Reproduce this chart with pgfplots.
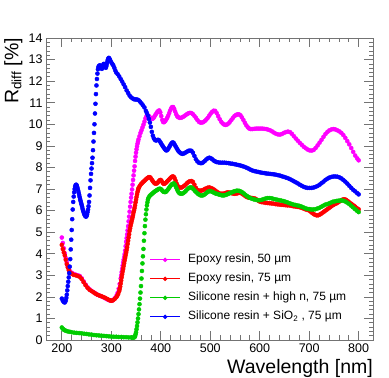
\documentclass[border=0pt]{standalone}
\usepackage{fontspec}
\setmainfont{Liberation Sans}
\usepackage{pgfplots}
\pgfplotsset{compat=1.18}
\definecolor{cmag}{RGB}{255,0,255}
\definecolor{cred}{RGB}{255,0,0}
\definecolor{cgreen}{RGB}{0,204,0}
\definecolor{cblue}{RGB}{0,0,255}
\begin{document}
\begin{tikzpicture}[x=1pt,y=1pt]
\path[use as bounding box] (0,0) rectangle (389,378);
\begin{axis}[
  at={(46pt,38pt)}, anchor=south west, scale only axis,
  width=327pt, height=302pt,
  xmin=168, xmax=829, ymin=0, ymax=14,
  xtick={200,300,...,800}, ytick={0,1,...,14},
  minor x tick num=4, minor y tick num=4,
  tick align=inside, major tick length=9pt, minor tick length=4.5pt,
  axis line style={black!55, line width=0.7pt},
  every tick/.style={black!55, line width=0.7pt},
  tick label style={font=\fontsize{12.5}{14}\selectfont},
  /pgf/number format/assume math mode=true,
  /pgf/number format/1000 sep={},
  xlabel={Wavelength [nm]},
  xlabel style={at={(rel axis cs:1,-0.1093)}, anchor=base east, inner sep=0pt, font=\fontsize{19.5}{22}\selectfont},
  ylabel={R\raisebox{-3pt}{\fontsize{13.5}{14}\selectfont diff} [\%]},
  ylabel style={at={(rel axis cs:-0.0841,1)}, anchor=base east, inner sep=0pt, rotate=0, font=\fontsize{19.5}{22}\selectfont},
  legend style={at={(rel axis cs:0.316,0.285)}, anchor=north west, draw=none, fill=none, inner sep=0pt,
    font=\fontsize{12}{14}\selectfont, row sep=7.6pt,
    nodes={inner sep=0pt, text height=8.8pt, text depth=2.6pt},
    /tikz/every odd column/.append style={column sep=7.5pt}},
  legend cell align=left,
  legend image code/.code={\draw[#1,sharp plot,line width=1.2pt,mark repeat=2,mark phase=2,mark size=1.5pt] plot coordinates {(0pt,0pt) (15pt,0pt) (30pt,0pt)};},
  every axis plot/.append style={only marks, mark=*, mark size=2.05pt},
]
\addplot[cmag] coordinates {
(200,4.75) (202,4.5) (204,4.25) (206,4.02) (208,3.8) (210,3.6) (212,3.43) (214,3.3) (216,3.2) (218,3.14) (221,3.1) (224,3.06) (228,3.03) (232,3.0) (236,2.97) (240,2.87) (244,2.72) (248,2.57) (252,2.44) (256,2.35) (260,2.28) (264,2.22) (268,2.16) (272,2.1) (276,2.06) (280,2.02) (284,1.98) (288,1.93) (292,1.88) (296,1.84) (299,1.82) (302,1.83) (305,1.88) (308,1.96) (311,2.08) (313,2.2) (315,2.38) (317,2.6) (319,2.85) (320,3.0) (321,3.15) (322,3.3) (323,3.45) (324,3.6) (325,3.72) (326,3.84) (327,3.98) (328,4.15) (329,4.35) (330,4.55) (331,4.72) (332,4.9) (333,5.08) (334,5.28) (335,5.5) (336,5.72) (337,5.95) (338,6.18) (339,6.4) (340,6.6) (341,6.78) (342,6.98) (343,7.2) (344,7.42) (345,7.63) (346,7.85) (347,8.05) (348,8.3) (349,8.5) (350,8.68) (351,8.84) (352,8.98) (353,9.1) (354,9.2) (355,9.3) (357,9.45) (359,9.6) (361,9.72) (363,9.85) (365,9.98) (367,10.12) (369,10.27) (371,10.37) (373,10.4) (375,10.4) (377,10.36) (379,10.3) (381,10.26) (383,10.25) (385,10.28) (387,10.35) (389,10.43) (391,10.5) (393,10.57) (395,10.62) (397,10.64) (399,10.55) (401,10.38) (403,10.2) (405,10.1) (407,10.1) (409,10.15) (411,10.22) (413,10.3) (415,10.4) (417,10.52) (419,10.64) (421,10.74) (423,10.8) (425,10.8) (427,10.72) (429,10.6) (431,10.47) (433,10.38) (435,10.33) (438,10.3) (441,10.3) (444,10.33) (447,10.37) (450,10.42) (453,10.47) (456,10.51) (459,10.53) (462,10.52) (465,10.47) (468,10.39) (471,10.3) (474,10.2) (477,10.12) (480,10.08) (483,10.08) (486,10.1) (489,10.15) (492,10.22) (495,10.3) (498,10.4) (501,10.5) (504,10.58) (507,10.63) (510,10.62) (513,10.52) (516,10.38) (519,10.24) (522,10.12) (525,10.04) (528,9.99) (531,9.97) (534,9.99) (537,10.04) (540,10.12) (543,10.21) (546,10.3) (549,10.38) (552,10.43) (555,10.46) (558,10.46) (561,10.42) (564,10.32) (567,10.2) (570,10.07) (573,9.95) (576,9.86) (579,9.8) (582,9.78) (585,9.78) (589,9.79) (593,9.8) (597,9.8) (601,9.8) (605,9.8) (609,9.79) (613,9.78) (617,9.75) (621,9.72) (625,9.67) (629,9.61) (633,9.56) (637,9.53) (641,9.52) (645,9.55) (649,9.6) (653,9.64) (657,9.66) (661,9.64) (665,9.56) (669,9.45) (673,9.34) (677,9.24) (681,9.14) (685,9.05) (689,8.96) (693,8.89) (697,8.83) (701,8.79) (705,8.78) (709,8.81) (713,8.9) (717,9.02) (721,9.15) (725,9.28) (729,9.42) (733,9.55) (737,9.65) (741,9.72) (745,9.76) (749,9.78) (753,9.76) (757,9.72) (761,9.67) (765,9.6) (769,9.5) (773,9.37) (777,9.22) (781,9.07) (785,8.9) (789,8.72) (793,8.55) (797,8.42) (800,8.33)
};
\addlegendentry{Epoxy resin, 50 µm}
\addplot[cred] coordinates {
(200,4.41) (202,4.22) (204,4.06) (206,3.92) (208,3.72) (210,3.52) (212,3.37) (214,3.24) (216,3.14) (218,3.1) (221,3.06) (224,3.02) (228,3.0) (232,2.97) (236,2.93) (240,2.83) (244,2.68) (248,2.54) (252,2.42) (256,2.33) (260,2.27) (264,2.21) (268,2.15) (272,2.1) (276,2.06) (280,2.03) (284,1.99) (288,1.95) (292,1.9) (295,1.86) (298,1.83) (301,1.82) (304,1.85) (307,1.91) (310,1.98) (312,2.05) (314,2.14) (316,2.27) (317,2.37) (318,2.48) (319,2.62) (320,2.76) (321,2.91) (322,3.05) (323,3.18) (324,3.3) (325,3.43) (326,3.56) (327,3.69) (328,3.81) (329,3.93) (330,4.05) (331,4.17) (332,4.3) (333,4.45) (334,4.6) (335,4.75) (336,4.9) (337,5.06) (338,5.18) (339,5.3) (340,5.4) (341,5.5) (342,5.6) (343,5.69) (344,5.8) (345,5.92) (346,6.02) (347,6.12) (348,6.25) (349,6.38) (350,6.5) (351,6.63) (352,6.75) (353,6.86) (354,6.95) (355,7.03) (356,7.08) (358,7.16) (360,7.22) (362,7.27) (364,7.32) (366,7.36) (368,7.4) (370,7.45) (372,7.49) (374,7.52) (376,7.55) (378,7.55) (380,7.5) (382,7.43) (384,7.36) (386,7.3) (388,7.26) (390,7.25) (392,7.26) (394,7.3) (396,7.36) (398,7.41) (400,7.42) (402,7.36) (404,7.28) (406,7.24) (408,7.25) (410,7.28) (412,7.33) (414,7.38) (416,7.42) (418,7.47) (420,7.52) (422,7.56) (424,7.58) (426,7.57) (428,7.5) (430,7.38) (432,7.25) (434,7.15) (436,7.09) (438,7.07) (441,7.06) (444,7.09) (447,7.14) (450,7.2) (453,7.27) (456,7.33) (459,7.36) (462,7.37) (465,7.33) (468,7.2) (471,7.05) (474,6.96) (477,6.93) (480,6.92) (483,6.93) (486,6.96) (489,7.0) (492,7.03) (495,7.06) (498,7.07) (501,7.05) (504,7.02) (507,6.98) (510,6.93) (513,6.88) (516,6.83) (519,6.79) (522,6.78) (525,6.78) (528,6.79) (531,6.81) (534,6.84) (537,6.84) (540,6.83) (543,6.81) (546,6.79) (549,6.78) (552,6.79) (555,6.8) (558,6.82) (561,6.82) (564,6.79) (567,6.74) (570,6.69) (573,6.64) (576,6.61) (579,6.6) (582,6.59) (585,6.58) (588,6.57) (591,6.55) (594,6.51) (597,6.46) (600,6.42) (604,6.39) (608,6.38) (612,6.36) (616,6.35) (620,6.34) (624,6.33) (628,6.32) (632,6.3) (636,6.29) (640,6.28) (644,6.27) (648,6.26) (652,6.25) (656,6.24) (660,6.24) (664,6.22) (668,6.2) (672,6.19) (676,6.17) (680,6.16) (684,6.13) (688,6.1) (692,6.06) (696,6.03) (700,6.0) (703,5.95) (706,5.89) (709,5.84) (712,5.8) (715,5.78) (718,5.78) (721,5.81) (724,5.85) (727,5.9) (730,5.95) (733,6.0) (736,6.05) (739,6.1) (742,6.15) (745,6.2) (748,6.25) (751,6.29) (754,6.32) (757,6.36) (760,6.4) (763,6.45) (766,6.49) (769,6.52) (772,6.52) (775,6.49) (778,6.44) (781,6.38) (784,6.33) (787,6.28) (790,6.23) (793,6.18) (796,6.12) (800,6.06)
};
\addlegendentry{Epoxy resin, 75 µm}
\addplot[cgreen] coordinates {
(200,0.58) (202,0.52) (204,0.48) (206,0.45) (209,0.42) (212,0.4) (216,0.38) (220,0.36) (225,0.34) (230,0.33) (235,0.32) (240,0.31) (245,0.29) (250,0.28) (255,0.26) (260,0.25) (265,0.23) (270,0.22) (275,0.21) (280,0.2) (285,0.19) (290,0.18) (295,0.17) (300,0.16) (305,0.15) (310,0.15) (315,0.14) (320,0.14) (325,0.13) (330,0.13) (335,0.12) (340,0.12) (343,0.11) (345,0.11) (347,0.13) (348,0.18) (349,0.26) (350,0.36) (351,0.5) (352,0.65) (353,0.82) (354,1.0) (355,1.2) (356,1.42) (357,1.66) (358,1.92) (359,2.2) (360,2.5) (361,2.85) (362,3.2) (363,3.55) (364,3.88) (365,4.22) (366,4.6) (367,4.95) (368,5.28) (369,5.58) (370,5.83) (371,6.05) (372,6.24) (373,6.38) (374,6.5) (375,6.58) (377,6.66) (379,6.71) (381,6.75) (383,6.79) (385,6.83) (387,6.87) (389,6.9) (391,6.93) (393,6.96) (395,6.99) (397,7.01) (399,7.01) (401,6.98) (403,6.93) (405,6.88) (407,6.86) (409,6.86) (411,6.88) (413,6.93) (415,6.99) (417,7.06) (419,7.12) (421,7.18) (423,7.23) (425,7.25) (427,7.25) (429,7.18) (431,7.08) (433,6.97) (435,6.88) (437,6.82) (439,6.79) (442,6.78) (445,6.8) (448,6.85) (451,6.92) (454,6.99) (457,7.05) (460,7.08) (463,7.06) (466,6.99) (469,6.91) (472,6.84) (475,6.78) (478,6.73) (481,6.7) (484,6.7) (487,6.72) (490,6.77) (493,6.83) (496,6.88) (499,6.9) (502,6.89) (505,6.86) (508,6.82) (511,6.79) (514,6.77) (517,6.75) (520,6.73) (523,6.71) (526,6.7) (529,6.71) (532,6.73) (535,6.76) (538,6.79) (541,6.82) (544,6.85) (547,6.88) (550,6.9) (553,6.92) (556,6.92) (559,6.91) (562,6.88) (565,6.84) (568,6.79) (571,6.73) (574,6.68) (577,6.63) (580,6.59) (584,6.55) (588,6.52) (592,6.5) (596,6.48) (600,6.48) (604,6.5) (608,6.53) (612,6.56) (616,6.58) (620,6.58) (624,6.57) (628,6.54) (632,6.52) (636,6.5) (640,6.48) (644,6.46) (648,6.44) (652,6.41) (656,6.38) (660,6.34) (664,6.31) (668,6.28) (672,6.26) (676,6.24) (680,6.22) (684,6.19) (688,6.15) (692,6.11) (696,6.08) (700,6.07) (704,6.05) (708,6.05) (712,6.06) (716,6.09) (720,6.12) (724,6.17) (728,6.22) (732,6.27) (736,6.3) (740,6.33) (744,6.37) (748,6.41) (752,6.43) (756,6.45) (760,6.46) (764,6.47) (768,6.46) (772,6.43) (776,6.38) (780,6.32) (784,6.24) (788,6.16) (792,6.08) (796,6.0) (800,5.93)
};
\addlegendentry{Silicone resin + high n, 75 µm}
\addplot[cblue] coordinates {
(200,1.92) (202,1.82) (204,1.76) (206,1.74) (208,1.82) (209,1.95) (210,2.1) (211,2.3) (212,2.5) (213,2.7) (214,2.9) (215,3.1) (216,3.4) (217,3.75) (218,4.2) (219,4.65) (220,5.1) (221,5.6) (222,6.05) (223,6.4) (224,6.65) (225,6.85) (226,7.0) (227,7.12) (228,7.18) (229,7.2) (230,7.17) (231,7.1) (232,7.02) (233,6.93) (234,6.83) (235,6.73) (236,6.63) (237,6.53) (238,6.44) (239,6.35) (240,6.27) (241,6.18) (242,6.08) (243,6.0) (244,5.93) (245,5.86) (246,5.8) (247,5.76) (248,5.73) (249,5.72) (250,5.75) (251,5.82) (252,5.93) (253,6.05) (254,6.2) (255,6.4) (256,6.7) (257,7.05) (258,7.4) (259,7.7) (260,7.95) (261,8.2) (262,8.45) (263,8.8) (264,9.2) (265,9.6) (266,10.0) (267,10.5) (268,10.95) (269,11.4) (270,11.8) (271,12.1) (272,12.35) (273,12.55) (274,12.65) (275,12.7) (276,12.72) (277,12.73) (278,12.7) (279,12.65) (280,12.6) (281,12.57) (282,12.62) (283,12.7) (284,12.78) (285,12.8) (286,12.75) (287,12.7) (288,12.65) (289,12.62) (290,12.7) (291,12.8) (292,12.9) (293,13.0) (294,13.05) (295,13.08) (296,13.05) (297,13.0) (298,12.95) (300,12.87) (302,12.8) (304,12.73) (306,12.62) (308,12.5) (310,12.4) (313,12.32) (316,12.22) (319,12.1) (322,11.98) (325,11.85) (328,11.72) (331,11.57) (334,11.45) (337,11.33) (340,11.25) (343,11.2) (346,11.16) (349,11.15) (352,11.15) (355,11.12) (358,11.05) (361,10.97) (364,10.88) (367,10.78) (370,10.62) (372,10.52) (374,10.4) (376,10.25) (378,10.08) (380,9.88) (382,9.65) (384,9.47) (386,9.35) (388,9.28) (390,9.25) (392,9.26) (394,9.28) (396,9.27) (398,9.21) (400,9.14) (402,9.06) (404,8.99) (406,8.92) (408,8.86) (410,8.8) (412,8.79) (414,8.83) (416,8.9) (418,8.98) (420,9.06) (422,9.13) (424,9.16) (426,9.14) (428,9.06) (430,8.98) (432,8.9) (434,8.82) (436,8.75) (438,8.7) (441,8.65) (444,8.63) (447,8.65) (450,8.69) (453,8.73) (456,8.77) (459,8.78) (462,8.77) (465,8.68) (468,8.53) (471,8.38) (474,8.28) (477,8.22) (480,8.2) (483,8.2) (486,8.24) (489,8.3) (492,8.37) (495,8.42) (498,8.45) (501,8.43) (504,8.38) (507,8.32) (510,8.28) (513,8.25) (517,8.23) (521,8.22) (525,8.22) (529,8.22) (533,8.21) (537,8.2) (541,8.18) (545,8.17) (549,8.15) (553,8.13) (557,8.11) (561,8.09) (565,8.06) (569,8.03) (573,7.99) (577,7.95) (581,7.9) (585,7.86) (589,7.83) (593,7.81) (597,7.79) (601,7.77) (605,7.75) (609,7.74) (613,7.72) (617,7.71) (621,7.7) (625,7.69) (629,7.68) (633,7.66) (637,7.64) (641,7.62) (645,7.59) (649,7.56) (653,7.53) (657,7.5) (661,7.46) (665,7.41) (669,7.36) (673,7.31) (677,7.26) (681,7.2) (685,7.15) (689,7.1) (693,7.07) (697,7.05) (701,7.05) (705,7.05) (709,7.07) (713,7.1) (717,7.14) (721,7.2) (725,7.27) (729,7.34) (733,7.42) (737,7.48) (741,7.53) (745,7.56) (749,7.58) (753,7.58) (757,7.57) (761,7.54) (765,7.49) (769,7.42) (773,7.34) (777,7.25) (781,7.15) (785,7.05) (789,6.96) (793,6.89) (797,6.81) (800,6.75)
};
\addlegendentry{Silicone resin + SiO\textsubscript{2} , 75 µm}
\end{axis}
\end{tikzpicture}
\end{document}
